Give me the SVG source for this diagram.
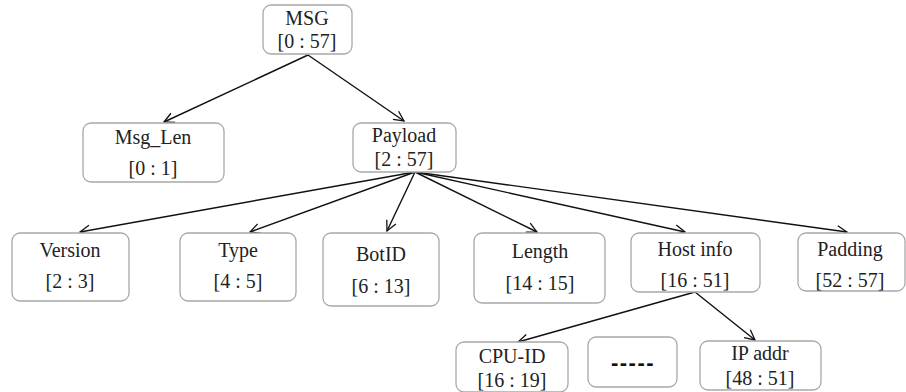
<svg xmlns="http://www.w3.org/2000/svg" width="906" height="392" viewBox="0 0 906 392">
<defs>
<marker id="arr" viewBox="0 0 12 12" refX="11" refY="6" markerWidth="12" markerHeight="12" markerUnits="userSpaceOnUse" orient="auto">
<path d="M1,1 L11,6 L1,11" fill="none" stroke="#111" stroke-width="1.3"/>
</marker>
<style>
.box{fill:#fff;stroke:#a8a8a8;stroke-width:1.3}
.t{font-family:"Liberation Serif","Times New Roman",serif;font-size:20px;fill:#222;text-anchor:middle}
.dash{font-family:"Liberation Sans",Arial,sans-serif;font-size:22px;font-weight:bold;fill:#111;text-anchor:middle;letter-spacing:1.5px}
.e{stroke:#111;stroke-width:1.4;fill:none;marker-end:url(#arr)}
</style>
</defs>
<rect width="906" height="392" fill="#fff"/>
<g id="connectors">
<line class="e" x1="308" y1="55" x2="164" y2="122"/>
<line class="e" x1="308" y1="55" x2="404" y2="121"/>
<line class="e" x1="415" y1="172" x2="80" y2="232"/>
<line class="e" x1="415" y1="172" x2="250" y2="232"/>
<line class="e" x1="415" y1="172" x2="387" y2="231"/>
<line class="e" x1="415" y1="172" x2="537" y2="232"/>
<line class="e" x1="415" y1="172" x2="685" y2="232"/>
<line class="e" x1="415" y1="172" x2="847" y2="232"/>
<line class="e" x1="695" y1="292" x2="518" y2="342"/>
<line class="e" x1="695" y1="292" x2="755" y2="340"/>
</g>
<g id="msg"><rect class="box" x="263" y="5" width="89" height="49" rx="8"/><text class="t" x="307" y="25">MSG</text><text class="t" x="307" y="48">[0 : 57]</text></g>
<g id="msg_len"><rect class="box" x="83" y="123" width="141" height="59" rx="8"/><text class="t" x="153" y="144">Msg_Len</text><text class="t" x="153" y="175">[0 : 1]</text></g>
<g id="payload"><rect class="box" x="353" y="123" width="103" height="49" rx="8"/><text class="t" x="404" y="142">Payload</text><text class="t" x="404" y="166">[2 : 57]</text></g>
<g id="version"><rect class="box" x="12" y="233" width="117" height="68" rx="8"/><text class="t" x="70" y="257">Version</text><text class="t" x="70" y="288">[2 : 3]</text></g>
<g id="type"><rect class="box" x="180" y="233" width="116" height="68" rx="8"/><text class="t" x="238" y="257">Type</text><text class="t" x="238" y="288">[4 : 5]</text></g>
<g id="botid"><rect class="box" x="323" y="233" width="116" height="73" rx="8"/><text class="t" x="381" y="261">BotID</text><text class="t" x="381" y="293">[6 : 13]</text></g>
<g id="length"><rect class="box" x="474" y="233" width="131" height="70" rx="8"/><text class="t" x="540" y="258">Length</text><text class="t" x="540" y="290">[14 : 15]</text></g>
<g id="hostinfo"><rect class="box" x="631" y="233" width="129" height="59" rx="8"/><text class="t" x="695" y="256">Host info</text><text class="t" x="695" y="287">[16 : 51]</text></g>
<g id="padding"><rect class="box" x="798" y="233" width="107" height="58" rx="8"/><text class="t" x="850" y="256">Padding</text><text class="t" x="850" y="287">[52 : 57]</text></g>
<g id="cpuid"><rect class="box" x="456" y="342" width="112" height="50" rx="8"/><text class="t" x="512" y="363">CPU-ID</text><text class="t" x="512" y="387">[16 : 19]</text></g>
<g id="ellipsis"><rect class="box" x="588" y="337" width="89" height="50" rx="8"/><text class="dash" x="633" y="370">-----</text></g>
<g id="ipaddr"><rect class="box" x="700" y="341" width="121" height="49" rx="8"/><text class="t" x="760" y="360">IP addr</text><text class="t" x="760" y="385">[48 : 51]</text></g>
</svg>
